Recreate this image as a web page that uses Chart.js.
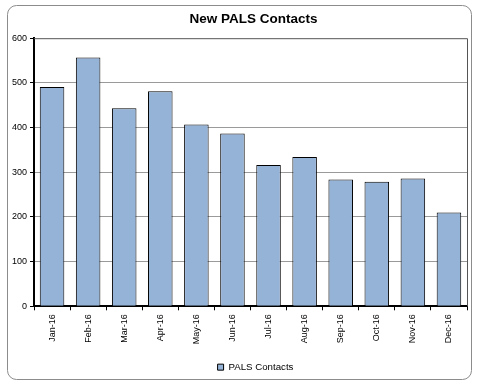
<!DOCTYPE html>
<html>
<head>
<meta charset="utf-8">
<script src="https://cdn.jsdelivr.net/npm/chart.js@4/dist/chart.umd.min.js"></script>
<style>
  html, body { margin: 0; padding: 0; background: #fff; }
  #wrap { width: 477px; height: 382px; position: relative; }
</style>
</head>
<body>
<div id="wrap"><canvas id="palsChart"></canvas></div>
<script>
// New PALS contacts per month
const MONTHS = ['Jan-16', 'Feb-16', 'Mar-16', 'Apr-16', 'May-16', 'Jun-16',
                'Jul-16', 'Aug-16', 'Sep-16', 'Oct-16', 'Nov-16', 'Dec-16'];
const CONTACTS = [491, 557, 443, 481, 407, 387, 316, 334, 284, 279, 286, 210];
const Y_TICKS = [0, 100, 200, 300, 400, 500, 600];

const FONT = "'Liberation Sans', Arial, sans-serif";

Chart.defaults.font.family = FONT;
Chart.defaults.color = '#000';

// rounded outer frame + plot area frame
const framePlugin = {
    id: 'frames',
    afterLayout(chart) {
        // title and legend sit a little right of centre
        const lg = chart.legend;
        if (lg) { lg.left += 18; lg.right += 18; }
        const tb = chart.titleBlock;
        if (tb) { tb.left += 16; tb.right += 16; }
    },
    beforeDraw(chart) {
        const c = chart.ctx;
        c.save();
        c.strokeStyle = '#8c8c8c';
        c.lineWidth = 1;
        c.beginPath();
        c.roundRect(7.5, 5.5, 464, 374, 9);
        c.stroke();
        c.restore();
    },
    afterDatasetsDraw(chart) {
        const a = chart.chartArea;
        const c = chart.ctx;
        c.save();
        c.strokeStyle = '#555';
        c.lineWidth = 1;
        c.beginPath();
        c.moveTo(a.left, a.top + 0.5);
        c.lineTo(a.right + 0.5, a.top + 0.5);
        c.lineTo(a.right + 0.5, a.bottom);
        c.stroke();
        c.restore();
    }
};

new Chart(document.getElementById('palsChart'), {
    type: 'bar',
    data: {
        labels: MONTHS,
        datasets: [{
            label: 'PALS Contacts',
            data: CONTACTS,
            backgroundColor: '#95b3d7',
            borderColor: '#000',
            borderWidth: 1,
            categoryPercentage: 0.68,
            barPercentage: 1.0
        }]
    },
    options: {
        responsive: true,
        maintainAspectRatio: false,
        animation: false,
        layout: { padding: { left: 8, right: 10, top: 0, bottom: 0 } },
        plugins: {
            title: {
                display: true,
                text: 'New PALS Contacts',
                color: '#000',
                font: { family: FONT, size: 13.5, weight: 'bold' },
                padding: { top: 11, bottom: 11 }
            },
            legend: {
                position: 'bottom',
                labels: {
                    boxWidth: 6,
                    boxHeight: 6,
                    padding: 4,
                    color: '#000',
                    font: { family: FONT, size: 9.7 }
                }
            },
            tooltip: { enabled: false }
        },
        scales: {
            x: {
                grid: {
                    display: true,
                    drawOnChartArea: false,
                    drawTicks: true,
                    tickLength: 4,
                    color: '#000',
                    offset: true
                },
                border: { color: '#000', width: 2 },
                ticks: {
                    minRotation: 90,
                    maxRotation: 90,
                    padding: 4,
                    color: '#000',
                    font: { family: FONT, size: 9 }
                },
                afterFit(scale) { scale.height = 52; }
            },
            y: {
                min: 0,
                max: 600,
                afterBuildTicks(scale) { scale.ticks = Y_TICKS.map(v => ({ value: v })); },
                grid: {
                    color: ctx => (ctx.tick && ctx.tick.value === 600) ? 'rgba(0,0,0,0)' : '#9a9a9a',
                    drawTicks: true,
                    tickLength: 4,
                    tickColor: '#000'
                },
                border: { color: '#000', width: 2 },
                ticks: {
                    padding: 3,
                    color: '#000',
                    font: { family: FONT, size: 9 }
                },
                afterFit(scale) { scale.width = 26; }
            }
        }
    },
    plugins: [framePlugin]
});
</script>
</body>
</html>
